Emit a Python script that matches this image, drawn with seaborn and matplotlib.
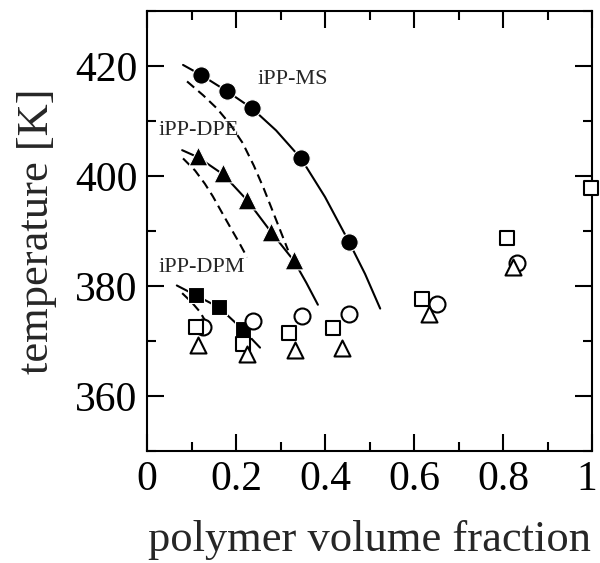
import matplotlib
matplotlib.use("Agg")
import matplotlib.pyplot as plt
import matplotlib.transforms as mtransforms
import seaborn as sns
import pandas as pd
from matplotlib.ticker import MultipleLocator, FixedLocator

# ---------------- data ----------------
# filled symbols: measured points with binodal fits
phi_MS = [0.121, 0.180, 0.236, 0.346, 0.454]
T_MS = [418.4, 415.4, 412.3, 403.2, 388.0]
phi_DPE = [0.115, 0.171, 0.225, 0.279, 0.330]
T_DPE = [403.6, 400.5, 395.6, 389.8, 384.8]
phi_DPM = [0.110, 0.162, 0.215]
T_DPM = [378.3, 376.1, 372.1]

# open symbols
phi_osq = [0.110, 0.215, 0.319, 0.418, 0.618, 0.809, 0.998]
T_osq = [372.5, 369.4, 371.5, 372.3, 377.6, 388.7, 397.8]
phi_ocir = [0.126, 0.238, 0.348, 0.454, 0.652, 0.831]
T_ocir = [372.5, 373.7, 374.6, 375.0, 376.8, 384.1]
phi_otri = [0.115, 0.225, 0.333, 0.438, 0.634, 0.822]
T_otri = [369.2, 367.7, 368.3, 368.8, 375.0, 383.4]

# solid curves (binodal) and dashed curves (spinodal)
bin_MS_x = [0.081, 0.121, 0.180, 0.236, 0.290, 0.346, 0.400, 0.454, 0.490, 0.524]
bin_MS_y = [420.2, 418.4, 415.4, 412.3, 408.3, 403.2, 396.2, 388.0, 382.2, 375.9]
spi_MS_x = [0.090, 0.126, 0.157, 0.187, 0.215, 0.240, 0.262, 0.283, 0.300, 0.317]
spi_MS_y = [417.2, 414.7, 412.3, 409.4, 406.0, 401.9, 397.8, 393.5, 390.0, 386.5]
bin_DPE_x = [0.079, 0.115, 0.171, 0.225, 0.279, 0.330, 0.358, 0.384]
bin_DPE_y = [404.7, 403.4, 400.3, 395.6, 389.8, 384.6, 380.6, 376.6]
spi_DPE_x = [0.081, 0.108, 0.130, 0.148, 0.166, 0.187, 0.207, 0.225]
spi_DPE_y = [403.2, 401.0, 398.6, 396.3, 393.7, 390.7, 387.9, 385.2]
bin_DPM_x = [0.067, 0.110, 0.162, 0.215, 0.254]
bin_DPM_y = [380.1, 378.3, 376.1, 372.1, 368.8]
spi_DPM_x = [0.079, 0.101, 0.119, 0.132, 0.142]
spi_DPM_y = [378.7, 377.0, 375.3, 373.5, 371.6]

labels = ["iPP-MS", "iPP-DPE", "iPP-DPM"]
label_x = [0.249, 0.025, 0.025]
label_y = [417.6, 408.2, 383.4]

x_ticks = [0, 0.2, 0.4, 0.6, 0.8, 1]
x_ticklabels = ["0", "0.2", "0.4", "0.6", "0.8", "1"]
y_ticks = [360, 380, 400, 420]

# ---------------- style ----------------
sns.set_theme(style="ticks")
plt.rcParams["font.family"] = ["Liberation Serif", "DejaVu Serif"]

fig = plt.figure(figsize=(6.0, 5.63), dpi=100)
ax = fig.add_axes([0.245, 0.1989, 0.7417, 0.7815])

lw = 1.5
def curve(xs, ys, dashed=False):
    df = pd.DataFrame({"x": xs, "y": ys})
    sns.lineplot(data=df, x="x", y="y", ax=ax, sort=False, estimator=None,
                 color="black", lw=lw,
                 dashes=False, linestyle=(0, (4.5, 2.6)) if dashed else "-")

curve(bin_MS_x, bin_MS_y)
curve(spi_MS_x, spi_MS_y, dashed=True)
curve(bin_DPE_x, bin_DPE_y)
curve(spi_DPE_x, spi_DPE_y, dashed=True)
curve(bin_DPM_x, bin_DPM_y)
curve(spi_DPM_x, spi_DPM_y, dashed=True)

def pts(xs, ys, marker, size, filled, z):
    df = pd.DataFrame({"x": xs, "y": ys})
    sns.scatterplot(data=df, x="x", y="y", ax=ax, marker=marker, s=size**2,
                    color="black" if filled else "white",
                    edgecolor="black" if not filled else "white",
                    linewidth=1.5 if not filled else 0.8,
                    zorder=z, clip_on=False)

pts(phi_MS, T_MS, "o", 12.5, True, 3)
pts(phi_DPE, T_DPE, "^", 13.5, True, 3)
pts(phi_DPM, T_DPM, "s", 11.5, True, 3)
pts(phi_ocir, T_ocir, "o", 11.5, False, 4)
pts(phi_osq, T_osq, "s", 10.5, False, 5)
pts(phi_otri, T_otri, "^", 11.5, False, 6)

for t, x, y in zip(labels, label_x, label_y):
    ax.text(x, y, t, fontsize=16, ha="left", va="center", zorder=7)

ax.set_xlim(0, 1)
ax.set_ylim(350, 430)
ax.xaxis.set_major_locator(FixedLocator(x_ticks))
ax.set_xticklabels(x_ticklabels)
ax.xaxis.set_minor_locator(MultipleLocator(0.1))
ax.yaxis.set_major_locator(FixedLocator(y_ticks))
ax.yaxis.set_minor_locator(MultipleLocator(10))

ax.tick_params(which="both", direction="in", top=True, right=True,
               width=1.5, colors="black", labelsize=30)
ax.tick_params(which="major", length=12, pad=7)
ax.tick_params(which="minor", length=6.5)
for s in ax.spines.values():
    s.set_linewidth(1.5)
    s.set_color("black")

# nudge the last x tick label ("1") slightly left so it stays inside the figure
last = ax.get_xticklabels()[-1]
last.set_transform(last.get_transform() +
                   mtransforms.ScaledTranslation(-5 / 100, 0, fig.dpi_scale_trans))

ax.set_xlabel("polymer volume fraction", fontsize=32, labelpad=15)
ax.set_ylabel("temperature [K]", fontsize=32, labelpad=13)

fig.savefig("out.png", dpi=100)
